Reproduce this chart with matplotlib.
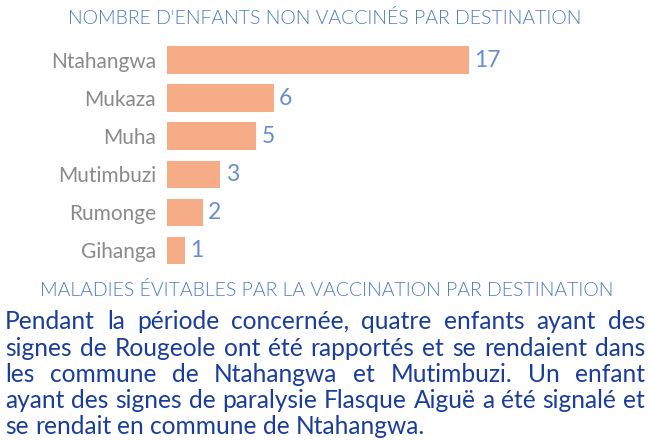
import matplotlib
matplotlib.use("Agg")
import matplotlib.pyplot as plt
from matplotlib import font_manager

# data
communes = ["Ntahangwa", "Mukaza", "Muha", "Mutimbuzi", "Rumonge", "Gihanga"]
enfants = [17, 6, 5, 3, 2, 1]

titre1 = "NOMBRE D'ENFANTS NON VACCINÉS PAR DESTINATION"
titre2 = "MALADIES ÉVITABLES PAR LA VACCINATION PAR DESTINATION"
paragraphe = [
    "Pendant la période concernée, quatre enfants ayant des",
    "signes de Rougeole ont été rapportés et se rendaient dans",
    "les commune de Ntahangwa et Mutimbuzi.  Un enfant",
    "ayant des signes de paralysie Flasque Aiguë a été signalé et",
    "se rendait en commune de Ntahangwa.",
]

W, H = 651, 441
bar_col = "#f7ac88"
val_col = "#6a8dcf"
tit_col = "#4d7bc3"
lab_col = "#8a8a8a"
txt_col = "#1a3d9c"

# thin font for the headings, if a Lato Light file is around
light = [f for f in font_manager.findSystemFonts()
         if "lato" in f.lower() and "light" in f.lower() and "italic" not in f.lower()]
if light:
    title_font = dict(fontproperties=font_manager.FontProperties(fname=light[0], size=14))
else:
    title_font = dict(family="Lato", fontsize=14)

fig = plt.figure(figsize=(W / 100, H / 100), dpi=100)

def fx(x):
    return x / W

def fy(y):
    return 1 - y / H

# bar chart, placed in pixel terms
ax = fig.add_axes([fx(167), fy(269.5), 302 / W, 228.5 / H])
ypos = list(range(len(communes)))
ax.barh(ypos, enfants, height=0.72, color=bar_col)
ax.set_xlim(0, 17)
ax.set_ylim(len(communes) - 0.5, -0.5)
ax.set_yticks(ypos)
ax.set_yticklabels(communes, fontsize=15, color=lab_col, family="Lato")
ax.tick_params(axis="y", length=0, pad=8)
ax.set_xticks([])
for s in ax.spines.values():
    s.set_visible(False)
for i, v in enumerate(enfants):
    ax.annotate(str(v), (v, i), xytext=(4, 0), textcoords="offset points",
                va="center", ha="left", fontsize=16.5, color=val_col,
                family="Lato", annotation_clip=False)

fig.text(fx(325), fy(24.5), titre1, ha="center", va="baseline",
         color=tit_col, **title_font)
fig.text(fx(327), fy(296.5), titre2, ha="center", va="baseline",
         color=tit_col, **title_font)

# justified paragraph
renderer = fig.canvas.get_renderer()
left, right = 5, 645
baselines = [329, 356, 382, 408, 434]

def width_px(s, size):
    t = fig.text(0, 0, s, fontsize=size, family="Lato")
    w = t.get_window_extent(renderer).width
    t.remove()
    return w

# font size so the tightest line just fits
widest = max(width_px(l, 10) for l in paragraphe[:-1])
fsize = 10 * (right - left - 6) / widest

space = width_px("a a", fsize) - 2 * width_px("a", fsize)
for n, line in enumerate(paragraphe):
    words = line.split()
    widths = [width_px(w, fsize) for w in words]
    if n < len(paragraphe) - 1:
        gap = (right - left - sum(widths)) / (len(words) - 1)
    else:
        gap = space
    x = left
    for w, wd in zip(words, widths):
        fig.text(fx(x), fy(baselines[n]), w, fontsize=fsize, family="Lato",
                 color=txt_col, va="baseline", ha="left")
        x += wd + gap

fig.savefig("out.png", dpi=100)
